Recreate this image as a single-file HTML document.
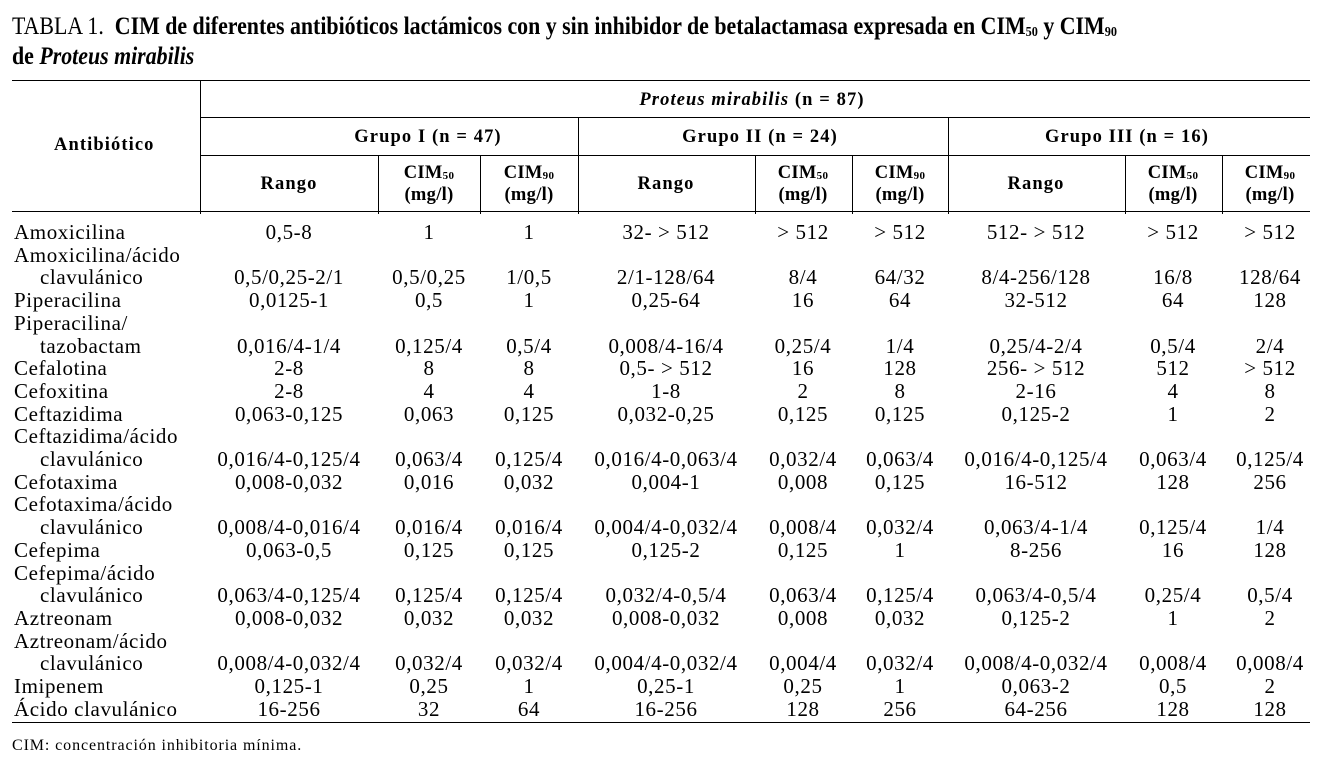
<!DOCTYPE html>
<html><head><meta charset="utf-8">
<style>
body{margin:0;width:1324px;height:772px;background:#fff;position:relative;overflow:hidden;font-family:"Liberation Serif",serif;color:#000}
.t{position:absolute;white-space:nowrap;line-height:1}
.c{transform:translateX(-50%)}
.h{font-weight:bold;font-size:18.5px;letter-spacing:1.1px}
.b{font-size:21px;letter-spacing:0.6px}
.ln{position:absolute;background:#000}
.title{position:absolute;left:12px;font-size:25px;white-space:nowrap;transform:scaleX(0.875);transform-origin:left top;line-height:1}
.title sub{font-size:14px;vertical-align:-2px}
.h sub{font-size:11px;vertical-align:-1px}
</style></head><body>
<div class="title" style="top:14px">TABLA 1.&nbsp; <b>CIM de diferentes antibióticos lactámicos con y sin inhibidor de betalactamasa expresada en CIM<sub>50</sub> y CIM<sub>90</sub></b></div>
<div class="title" style="top:44px"><b>de <i>Proteus mirabilis</i></b></div>

<div class="ln" style="left:12px;top:80px;width:1298px;height:1px"></div>
<div class="ln" style="left:200px;top:117px;width:1110px;height:1px"></div>
<div class="ln" style="left:200px;top:155px;width:1110px;height:1px"></div>
<div class="ln" style="left:12px;top:211px;width:1298px;height:1px"></div>
<div class="ln" style="left:12px;top:722px;width:1298px;height:1px"></div>

<div class="t h" style="left:54px;top:136px">Antibiótico</div>
<div class="t h c" style="left:752px;top:91px"><i>Proteus mirabilis</i> (n = 87)</div>
<div class="t h c" style="left:428px;top:128px">Grupo I (n = 47)</div>
<div class="t h c" style="left:760px;top:128px">Grupo II (n = 24)</div>
<div class="t h c" style="left:1127px;top:128px">Grupo III (n = 16)</div>

<div class="t" style="left:12px;top:738px;font-size:16px;letter-spacing:0.9px">CIM: concentración inhibitoria mínima.</div>

<div id="root"></div>
<script>
const vlines=[200,378,480,578,755,852,948,1125,1222];
const centers=[289,429,529,666,803,900,1036,1173,1270];
const rowNames=[["Amoxicilina"],["Amoxicilina/ácido","clavulánico"],["Piperacilina"],["Piperacilina/","tazobactam"],["Cefalotina"],["Cefoxitina"],["Ceftazidima"],["Ceftazidima/ácido","clavulánico"],["Cefotaxima"],["Cefotaxima/ácido","clavulánico"],["Cefepima"],["Cefepima/ácido","clavulánico"],["Aztreonam"],["Aztreonam/ácido","clavulánico"],["Imipenem"],["Ácido clavulánico"]];
const rowValues=[
["0,5-8","1","1","32- > 512","> 512","> 512","512- > 512","> 512","> 512"],
["0,5/0,25-2/1","0,5/0,25","1/0,5","2/1-128/64","8/4","64/32","8/4-256/128","16/8","128/64"],
["0,0125-1","0,5","1","0,25-64","16","64","32-512","64","128"],
["0,016/4-1/4","0,125/4","0,5/4","0,008/4-16/4","0,25/4","1/4","0,25/4-2/4","0,5/4","2/4"],
["2-8","8","8","0,5- > 512","16","128","256- > 512","512","> 512"],
["2-8","4","4","1-8","2","8","2-16","4","8"],
["0,063-0,125","0,063","0,125","0,032-0,25","0,125","0,125","0,125-2","1","2"],
["0,016/4-0,125/4","0,063/4","0,125/4","0,016/4-0,063/4","0,032/4","0,063/4","0,016/4-0,125/4","0,063/4","0,125/4"],
["0,008-0,032","0,016","0,032","0,004-1","0,008","0,125","16-512","128","256"],
["0,008/4-0,016/4","0,016/4","0,016/4","0,004/4-0,032/4","0,008/4","0,032/4","0,063/4-1/4","0,125/4","1/4"],
["0,063-0,5","0,125","0,125","0,125-2","0,125","1","8-256","16","128"],
["0,063/4-0,125/4","0,125/4","0,125/4","0,032/4-0,5/4","0,063/4","0,125/4","0,063/4-0,5/4","0,25/4","0,5/4"],
["0,008-0,032","0,032","0,032","0,008-0,032","0,008","0,032","0,125-2","1","2"],
["0,008/4-0,032/4","0,032/4","0,032/4","0,004/4-0,032/4","0,004/4","0,032/4","0,008/4-0,032/4","0,008/4","0,008/4"],
["0,125-1","0,25","1","0,25-1","0,25","1","0,063-2","0,5","2"],
["16-256","32","64","16-256","128","256","64-256","128","128"]];
const root=document.getElementById('root');
function mk(cls,txt,left,top){const d=document.createElement('div');d.className=cls;d.innerHTML=txt;d.style.left=left+'px';d.style.top=top+'px';root.appendChild(d);return d;}
vlines.forEach((x,i)=>{
  const top=(i===0)?80:(i%3===0?117:155);
  const d=document.createElement('div');d.className='ln';
  d.style.left=x+'px';d.style.top=top+'px';d.style.width='1px';d.style.height=(214-top)+'px';
  
  
  root.appendChild(d);
});
centers.forEach((x,i)=>{
  const k=i%3;
  let d;
  if(k===0){d=mk('t h c','Rango',x,175);}
  else{d=mk('t h c',(k===1?'CIM<sub>50</sub>':'CIM<sub>90</sub>')+'<br>(mg/l)',x,164);d.style.lineHeight='19px';d.style.textAlign='center';d.style.letterSpacing='0.3px';}
  
  
});
const y0=222,lh=22.7;
let line=0;
rowNames.forEach((nm,r)=>{
  nm.forEach((n,j)=>{
    const d=mk('t b',n,(j===0?14:40),y0+(line+j)*lh);
    
    
  });
  const vy=y0+(line+nm.length-1)*lh;
  rowValues[r].forEach((v,c)=>{
    const d=mk('t b c',v.replace(/>/g,'&gt;'),centers[c],vy);
    
    
  });
  line+=nm.length;
});
</script>
</body></html>
